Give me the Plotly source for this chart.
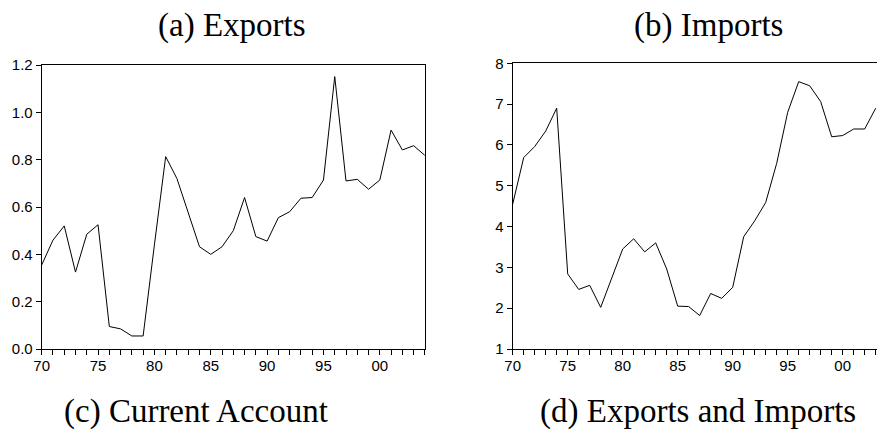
import plotly.graph_objects as go

years = list(range(1970, 2005))
exports = [0.355, 0.46, 0.52, 0.325, 0.485, 0.525, 0.095, 0.085, 0.055, 0.055,
           0.44, 0.813, 0.72, 0.575, 0.432, 0.40, 0.432, 0.50, 0.64, 0.475,
           0.456, 0.555, 0.58, 0.637, 0.64, 0.714, 1.151, 0.71, 0.717, 0.675,
           0.714, 0.925, 0.841, 0.859, 0.818]
imp_years = list(range(1970, 2004))
imports = [4.55, 5.69, 5.96, 6.34, 6.90, 2.84, 2.46, 2.56, 2.02, 2.73,
           3.45, 3.70, 3.38, 3.60, 2.96, 2.05, 2.04, 1.82, 2.36, 2.24,
           2.51, 3.75, 4.14, 4.59, 5.55, 6.80, 7.55, 7.45, 7.06, 6.20,
           6.23, 6.39, 6.39, 6.90]
tick_years = list(range(1970, 2005))
tick_text = [("%02d" % (y % 100)) if y % 5 == 0 else "" for y in tick_years]
exp_ticks = [0.0, 0.2, 0.4, 0.6, 0.8, 1.0, 1.2]
imp_ticks = [1, 2, 3, 4, 5, 6, 7, 8]

W, H = 877, 429
def px_x(p): return p / W
def px_y(p): return (H - p) / H

fig = go.Figure()
fig.add_trace(go.Scatter(x=years, y=exports, mode="lines",
                         line=dict(color="black", width=1), xaxis="x", yaxis="y",
                         showlegend=False))
fig.add_trace(go.Scatter(x=imp_years, y=imports, mode="lines",
                         line=dict(color="black", width=1), xaxis="x2", yaxis="y2",
                         showlegend=False))

tickfont = dict(family="Liberation Sans, Arial", size=15, color="black")
common_x = dict(tickmode="array", tickvals=tick_years, ticktext=tick_text,
                ticks="outside", ticklen=5, tickwidth=1, tickcolor="black",
                showline=True, linecolor="black", linewidth=1, showgrid=False,
                zeroline=False, tickfont=tickfont, automargin=False, fixedrange=True,
                ticklabelstandoff=-2)
common_y = dict(ticks="outside", ticklen=5, tickwidth=1, tickcolor="black",
                showline=True, linecolor="black", linewidth=1, showgrid=False,
                zeroline=False, tickfont=tickfont, automargin=False, fixedrange=True)

fig.update_layout(
    width=W, height=H,
    margin=dict(l=0, r=0, t=0, b=0),
    paper_bgcolor="white", plot_bgcolor="white",
    xaxis=dict(domain=[px_x(41.7), px_x(424.9)], range=[1970, 2004],
               anchor="y", mirror=True, **common_x),
    yaxis=dict(domain=[px_y(349), px_y(65)], range=[0, 1.2], anchor="x",
               tickvals=exp_ticks, ticktext=["%.1f" % v for v in exp_ticks],
               mirror=True, **common_y),
    xaxis2=dict(domain=[px_x(512.7), 1.0], range=[1970, 1970 + (877 - 512.7) / 11.0],
                anchor="y2", mirror=True, **common_x),
    yaxis2=dict(domain=[px_y(349), px_y(63.3)], range=[1, 8], anchor="x2",
                tickvals=imp_ticks, ticktext=[str(v) for v in imp_ticks],
                mirror=False, **common_y),
)

serif = dict(family="Liberation Serif, Times New Roman", size=33, color="black")
captions = [
    ("(a) Exports", 232, 26),
    ("(b) Imports", 708, 26),
    ("(c) Current Account", 196, 411),
    ("(d) Exports and Imports", 698, 411),
]
for text, cx, cy in captions:
    fig.add_annotation(text=text, x=px_x(cx), y=px_y(cy), xref="paper", yref="paper",
                       showarrow=False, xanchor="center", yanchor="middle", font=serif)

fig.write_html("out.html", config={"displayModeBar": False},
               post_script="document.body.style.margin='0';document.body.style.overflow='hidden';")
